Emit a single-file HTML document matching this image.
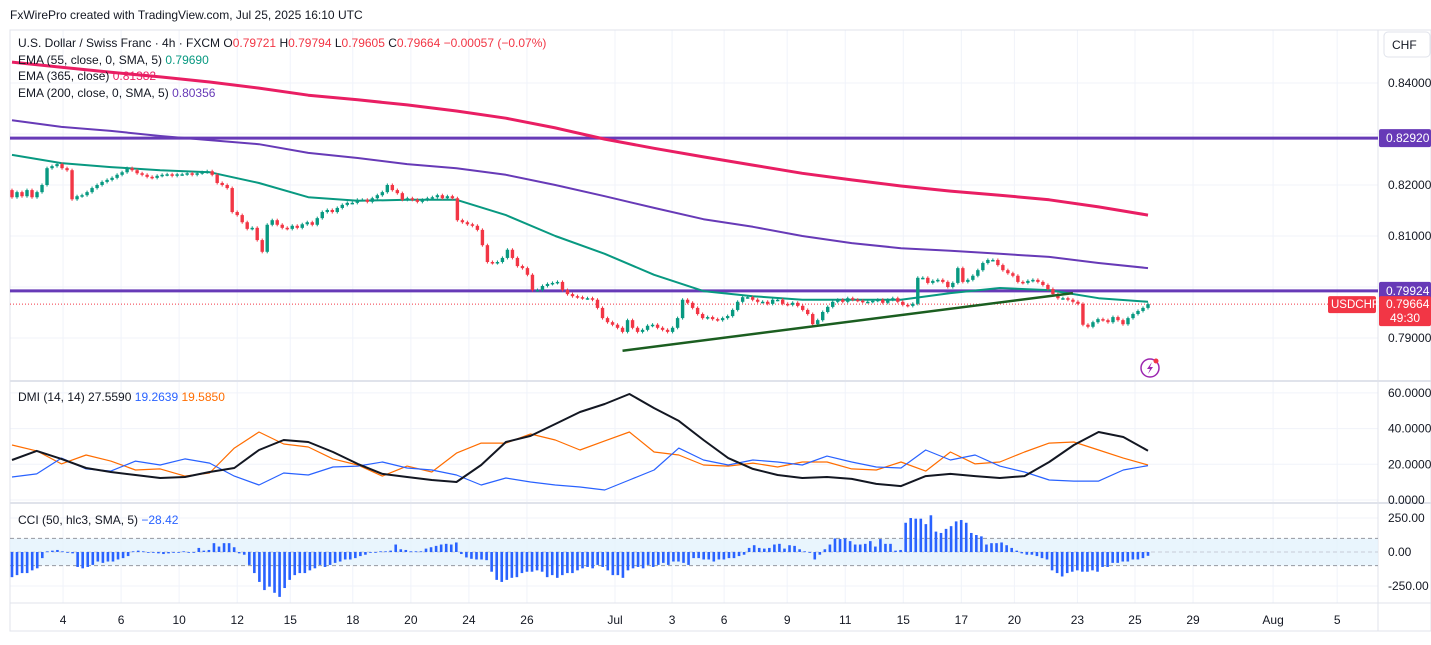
<!DOCTYPE html>
<html><head><meta charset="utf-8"><style>
html,body{margin:0;padding:0;background:#fff;}
body{width:1431px;height:640px;overflow:hidden;font-family:"Liberation Sans",sans-serif;}
svg text{font-family:"Liberation Sans",sans-serif;}
</style></head><body>
<svg id="chart" width="1431" height="640" viewBox="0 0 1431 640" xmlns="http://www.w3.org/2000/svg">
<text x="10" y="19" font-size="12" fill="#131722">FxWirePro created with TradingView.com, Jul 25, 2025 16:10 UTC</text>
<g id="grid"></g>
<g id="frame">
<rect x="10" y="30" width="1421" height="601" fill="none" stroke="#e0e3eb"/>
<line x1="10" y1="381" x2="1431" y2="381" stroke="#e0e3eb" stroke-width="2"/>
<line x1="10" y1="503" x2="1431" y2="503" stroke="#e0e3eb" stroke-width="2"/>
<line x1="10" y1="603" x2="1431" y2="603" stroke="#e0e3eb"/>
<line x1="1378" y1="30" x2="1378" y2="631" stroke="#e0e3eb"/>
</g>
<g id="cciband"></g>
<g id="hlines"></g>
<g id="emas"></g>
<g id="candles"></g>
<g id="trend"></g>
<g id="dmi"></g>
<g id="cci"></g>
<g id="axes"></g>
<g font-size="12" fill="#131722">
<text x="18" y="47">U.S. Dollar / Swiss Franc · 4h · FXCM <tspan fill="#131722">O</tspan><tspan fill="#f23645">0.79721</tspan> H<tspan fill="#f23645">0.79794</tspan> L<tspan fill="#f23645">0.79605</tspan> C<tspan fill="#f23645">0.79664 −0.00057 (−0.07%)</tspan></text>
<text x="18" y="64">EMA (55, close, 0, SMA, 5) <tspan fill="#089981">0.79690</tspan></text>
<text x="18" y="80">EMA (365, close) <tspan fill="#e91e63">0.81382</tspan></text>
<text x="18" y="97">EMA (200, close, 0, SMA, 5) <tspan fill="#673ab7">0.80356</tspan></text>
<text x="18" y="401">DMI (14, 14) <tspan>27.5590</tspan> <tspan fill="#2962ff">19.2639</tspan> <tspan fill="#ff6d00">19.5850</tspan></text>
<text x="18" y="524">CCI (50, hlc3, SMA, 5) <tspan fill="#2962ff">−28.42</tspan></text>
</g>
<g>
<rect x="1384" y="32" width="46" height="25" rx="4" fill="#fff" stroke="#e0e3eb"/>
<text x="1392" y="49" font-size="12" fill="#131722">CHF</text>
</g>
<g>
<circle cx="1150" cy="368" r="9" fill="#fff" stroke="#9c27b0" stroke-width="1.5"/>
<path d="M1152 362 L1147 369 L1150 369 L1148 374 L1153 367 L1150 367 Z" fill="#9c27b0"/>
<circle cx="1156" cy="361" r="2.5" fill="#f23645"/>
</g>
</svg>
<script>
// ---- data ----
const closes=[.8176,.8186,.8178,.8190,.8176,.8186,.8200,.8233,.8237,.8241,.8233,.8229,.8172,.8178,.8180,.8186,.8194,.8200,.8206,.8210,.8214,.8220,.8225,.8233,.8229,.8223,.8220,.8216,.8214,.8218,.8220,.8221,.8218,.8221,.8221,.8223,.8220,.8223,.8225,.8227,.8220,.8204,.8200,.8194,.8147,.8141,.8127,.8114,.8116,.8092,.8069,.8122,.8131,.8122,.8116,.8114,.8120,.8116,.8123,.8127,.8122,.8135,.8147,.8151,.8147,.8155,.8161,.8165,.8165,.8171,.8171,.8167,.8174,.8180,.8186,.8200,.8190,.8184,.8171,.8174,.8171,.8167,.8171,.8174,.8176,.8180,.8174,.8178,.8174,.8131,.8127,.8123,.8120,.8112,.8082,.8049,.8047,.8049,.8057,.8073,.8057,.8041,.8037,.8024,.7994,.7994,.8002,.8006,.8008,.8010,.7994,.7986,.7982,.7980,.7978,.7978,.7975,.7959,.7939,.7931,.7926,.7920,.7912,.7935,.7920,.7912,.7916,.7924,.7926,.7920,.7916,.7912,.7920,.7939,.7975,.7969,.7959,.7947,.7939,.7941,.7937,.7935,.7939,.7943,.7955,.7971,.7980,.7980,.7975,.7971,.7971,.7967,.7975,.7975,.7967,.7965,.7969,.7963,.7955,.7947,.7927,.7935,.7951,.7961,.7971,.7975,.7971,.7978,.7975,.7973,.7971,.7971,.7973,.7975,.7969,.7975,.7978,.7971,.7965,.7963,.7967,.8018,.8018,.8008,.8012,.8014,.8010,.8000,.8008,.8037,.8010,.8014,.8022,.8033,.8047,.8053,.8053,.8043,.8033,.8027,.8022,.8010,.8008,.8012,.8014,.8010,.8004,.7996,.7986,.7978,.7978,.7975,.7971,.7967,.7926,.7922,.7931,.7937,.7935,.7931,.7941,.7935,.7927,.7939,.7947,.7953,.7959,.79664];
const firstOpen=.8190;
const ema55=[.8259,.8243,.8235,.8229,.8225,.8204,.8176,.8169,.8171,.8171,.8141,.8100,.8065,.8024,.7992,.7982,.7975,.7975,.7975,.7988,.7998,.7994,.7978,.7971];
const ema200=[.8327,.8314,.8306,.8296,.8288,.8280,.8263,.8253,.8241,.8233,.8220,.8200,.8178,.8155,.8133,.8118,.8100,.8086,.8076,.8071,.8065,.8059,.8047,.8037];
const ema365=[.8441,.8431,.8421,.8412,.8402,.8390,.8376,.8367,.8357,.8345,.8331,.8312,.8290,.8272,.8255,.8239,.8223,.8210,.8198,.8188,.8180,.8171,.8157,.8141];
const levels=[0.8292,0.79924];
const trendBars=[122,212];
const trendPrices=[0.7875,0.7988];
const adx=[22.4,27.5,23.0,17.9,15.7,14.0,12.3,12.9,15.7,17.9,28.0,33.6,32.5,26.9,20.2,14.6,12.9,11.2,10.1,19.6,32.5,35.9,42.6,49.3,53.8,59.4,51.5,44.3,33.6,23.5,17.4,14.0,12.3,12.9,11.8,9.0,7.8,13.4,14.6,13.4,12.3,13.4,21.3,30.8,38.1,35.3,27.6];
const plusDI=[12.9,14.6,23.5,17.4,16.2,21.8,19.6,23.0,20.7,13.4,8.4,15.1,14.0,18.5,19.0,21.3,17.9,16.8,14.0,8.4,12.3,10.1,8.4,7.3,5.6,11.2,16.8,29.1,22.4,19.6,22.4,21.3,19.6,24.6,21.3,18.5,17.9,28.0,22.4,25.2,19.0,15.7,11.2,10.6,10.6,16.8,19.26];
const minusDI=[30.8,27.5,20.2,25.2,21.8,16.8,17.4,13.4,15.1,29.1,38.1,31.4,29.7,23.0,19.6,13.4,19.0,15.7,26.3,31.9,31.9,37.0,33.6,28.0,33.1,38.1,26.9,25.2,19.6,19.0,20.7,18.5,21.3,21.3,17.4,16.8,21.3,16.2,26.9,20.2,21.3,26.9,31.9,32.5,28.0,23.5,19.585];
const cciVals=[-185,-170,-155,-155,-135,-120,-45,5,10,15,5,0,-10,-110,-120,-110,-95,-70,-80,-70,-70,-55,-45,-30,5,10,5,0,-5,-10,-15,-10,-5,-5,5,0,0,30,10,15,65,40,65,65,35,-10,-20,-95,-155,-220,-280,-255,-300,-330,-265,-205,-170,-155,-155,-135,-120,-95,-110,-95,-80,-70,-55,-55,-45,-30,-20,-5,-5,5,5,10,55,20,15,5,5,5,25,35,45,55,60,55,70,-15,-40,-50,-55,-55,-60,-145,-205,-220,-205,-190,-185,-155,-145,-145,-135,-145,-185,-170,-190,-170,-155,-155,-135,-120,-110,-120,-95,-110,-135,-170,-170,-190,-135,-120,-110,-120,-95,-110,-95,-80,-95,-70,-70,-80,-95,-45,-45,-55,-55,-70,-55,-55,-45,-45,-30,-20,30,50,30,25,30,55,60,25,50,45,20,5,0,-55,-20,20,55,100,95,100,80,55,55,60,80,40,95,60,60,10,15,215,250,245,245,205,270,150,140,170,190,225,235,215,140,125,115,55,65,65,70,50,30,10,-10,-20,-20,-30,-45,-55,-135,-155,-180,-155,-145,-135,-145,-145,-135,-145,-110,-110,-80,-80,-70,-70,-55,-55,-45,-28];
const priceTicks=["0.84000","0.82000","0.81000","0.79000"];
const dmiTicks=["60.0000","40.0000","20.0000","0.0000"];
const cciTicks=["250.00","0.00","-250.00"];
const dateLabels=["4","6","10","12","15","18","20","24","26","Jul","3","6","9","11","15","17","20","23","25","29","Aug","5"];
const dateBars=[10.2,21.8,33.4,45.0,55.6,68.1,79.7,91.3,102.9,120.5,131.9,142.3,154.9,166.5,178.1,189.7,200.3,212.9,224.4,236.0,252.0,264.8];
// ---- axis functions ----
const X0=12,X1=1148;
const xBar=i=>X0+i*(X1-X0)/(closes.length-1);
const xSamp=(k,m)=>X0+k*(X1-X0)/(m-1);
const yP=p=>83+(0.84-p)*5100;
const yD=v=>500-v*1.785;
const yC=v=>552-v*0.136;
const NS="http://www.w3.org/2000/svg";
function mk(tag,parent,attrs){const e=document.createElementNS(NS,tag);for(const k in attrs)e.setAttribute(k,attrs[k]);parent.appendChild(e);return e;}
const g=id=>document.getElementById(id);
// grid
const grid=g('grid');
dateBars.forEach(b=>{const x=xBar(b);const l=mk('line',grid,{x1:x,y1:30,x2:x,y2:603,stroke:'#f0f3fa'});

});
priceTicks.forEach(t=>{const y=yP(parseFloat(t));const l=mk('line',grid,{x1:10,y1:y,x2:1378,y2:y,stroke:'#f0f3fa'});

});
[0.83,0.80].forEach(p=>{mk('line',grid,{x1:10,y1:yP(p),x2:1378,y2:yP(p),stroke:'#f0f3fa'});});
dmiTicks.forEach(t=>{const y=yD(parseFloat(t));mk('line',grid,{x1:10,y1:y,x2:1378,y2:y,stroke:'#f0f3fa'});});
cciTicks.forEach(t=>{const y=yC(parseFloat(t));mk('line',grid,{x1:10,y1:y,x2:1378,y2:y,stroke:'#f0f3fa'});});
// cci band
const cb=g('cciband');
const band=mk('rect',cb,{x:10,y:yC(100),width:1368,height:yC(-100)-yC(100),fill:'#e3f2fd',opacity:'0.8'});


[100,0,-100].forEach(v=>{mk('line',cb,{x1:10,y1:yC(v),x2:1378,y2:yC(v),stroke:v===0?'#c8ccd6':'#9598a1','stroke-dasharray':'4,3'});});
// levels
const hl=g('hlines');
levels.forEach(p=>{const l=mk('line',hl,{x1:10,y1:yP(p),x2:1378,y2:yP(p),stroke:'#673ab7','stroke-width':3});

});
const last=closes[closes.length-1];
mk('line',hl,{x1:10,y1:yP(last),x2:1330,y2:yP(last),stroke:'#f23645','stroke-dasharray':'1,2','stroke-width':1});
// emas
function poly(parent,vals,xf,yf,color,w,name){const pts=vals.map((v,k)=>xf(k,vals.length).toFixed(1)+','+yf(v).toFixed(1)).join(' ');
const p=mk('polyline',parent,{points:pts,fill:'none',stroke:color,'stroke-width':w,'stroke-linejoin':'round'});


return p;}
poly(g('emas'),ema365,xSamp,yP,'#e91e63',3,'ema-365-line');
poly(g('emas'),ema200,xSamp,yP,'#673ab7',2,'ema-200-line');
poly(g('emas'),ema55,xSamp,yP,'#089981',2,'ema-55-line');
// candles
const cg=g('candles');
closes.forEach((c,i)=>{const o=i===0?firstOpen:closes[i-1];const up=c>=o;const col=up?'#089981':'#f23645';
const hi=Math.max(o,c)+0.0003,lo=Math.min(o,c)-0.0003;const x=xBar(i);
const w=mk('line',cg,{x1:x,y1:yP(hi),x2:x,y2:yP(lo),stroke:col,'stroke-width':1});


const top=yP(Math.max(o,c)),bot=yP(Math.min(o,c));
const b=mk('rect',cg,{x:x-1.7,y:top,width:3.4,height:Math.max(1.5,bot-top),fill:col});

});
// trendline
const tl=mk('line',g('trend'),{x1:xBar(trendBars[0]),y1:yP(trendPrices[0]),x2:xBar(trendBars[1]),y2:yP(trendPrices[1]),stroke:'#1b5e20','stroke-width':2.5});


// dmi
poly(g('dmi'),minusDI,xSamp,yD,'#ff6d00',1.2,'minus-di-line');
poly(g('dmi'),plusDI,xSamp,yD,'#2962ff',1.2,'plus-di-line');
poly(g('dmi'),adx,xSamp,yD,'#131722',2,'adx-line');
// cci
const cg2=g('cci');
cciVals.forEach((v,k)=>{const x=xSamp(k,cciVals.length);const y0=yC(0),y1=yC(v);
const r=mk('rect',cg2,{x:x-1.3,y:Math.min(y0,y1),width:2.6,height:Math.max(0.8,Math.abs(y1-y0)),fill:'#2962ff'});

});
// axes labels
const ax=g('axes');
function txt(x,y,s,opts){const t=mk('text',ax,Object.assign({x:x,y:y,'font-size':12,fill:'#131722'},opts||{}));t.textContent=s;return t;}
priceTicks.forEach(t=>{const e=txt(1388,yP(parseFloat(t))+4,t);

});
dmiTicks.forEach(t=>{const e=txt(1388,yD(parseFloat(t))+4,t);

});
cciTicks.forEach(t=>{const e=txt(1388,yC(parseFloat(t))+4,t);

});
dateLabels.forEach((s,i)=>{const e=txt(xBar(dateBars[i]),624,s,{'text-anchor':'middle'});

});
levels.forEach(p=>{const y=yP(p);const r=mk('rect',ax,{x:1379,y:y-9,width:52,height:18,fill:'#673ab7',rx:2});


txt(1386,y+4,p.toFixed(5),{fill:'#fff'});});
const yl=yP(last);
const rt=mk('rect',ax,{x:1379,y:yl-8,width:52,height:30,fill:'#f23645',rx:2});


txt(1386,yl+4,last.toFixed(5),{fill:'#fff'});
txt(1390,yl+18,'49:30',{fill:'#fff'});
const st=mk('rect',ax,{x:1328,y:yl-8,width:48,height:17,fill:'#f23645',rx:2});


txt(1331,yl+4,'USDCHF',{fill:'#fff','font-size':11.5});
</script>
</body></html>
